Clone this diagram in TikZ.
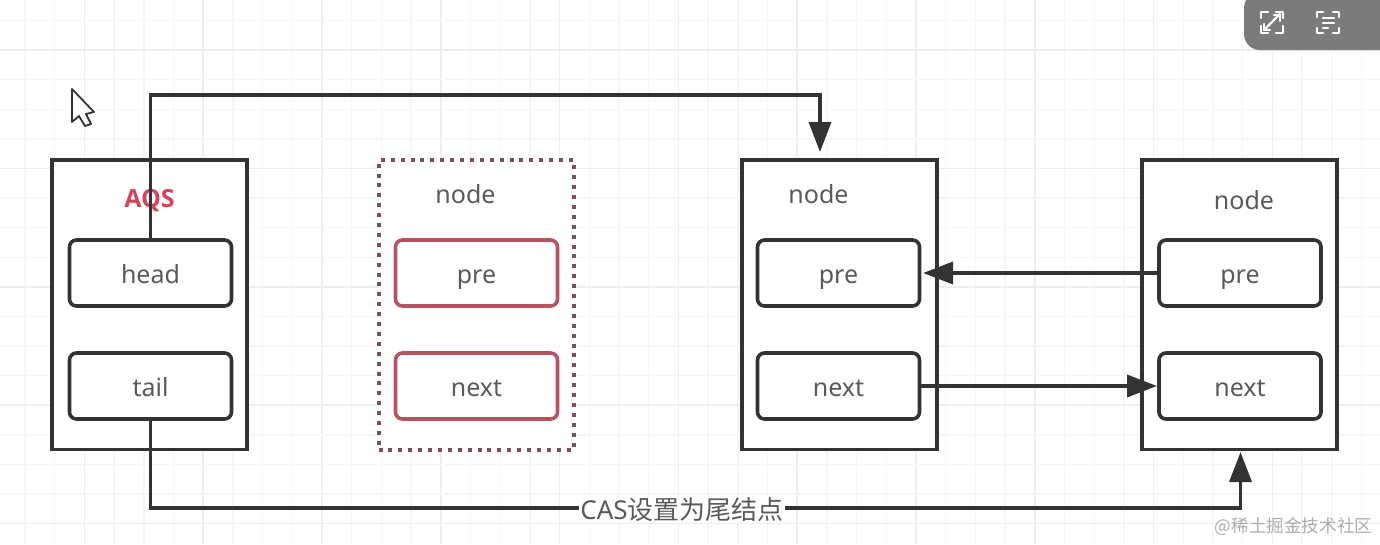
\documentclass[tikz,border=0pt]{standalone}
\usepackage{fontspec}
\setmainfont{Noto Sans}
\newfontfamily\cjkf{Noto Sans CJK SC}
\newfontfamily\aqsf{Open Sans}
\usetikzlibrary{arrows.meta,calc}
\definecolor{linec}{HTML}{333333}
\definecolor{txtc}{HTML}{5A5A5A}
\definecolor{redc}{HTML}{B9525F}
\definecolor{dotc}{HTML}{7A4F5C}
\definecolor{aqsc}{HTML}{D2455A}
\definecolor{gridA}{HTML}{F6F6F6}
\definecolor{gridB}{HTML}{EEEEEE}
\definecolor{barc}{HTML}{7B7B7B}
\tikzset{
  x=1pt,y=-1pt,
  outerbox/.style={draw=linec,line width=3.6pt,fill=white,minimum width=195.5pt,minimum height=289.5pt,inner sep=0pt,miter limit=10},
  dotbox/.style={draw=dotc,line width=4pt,fill=white,dash pattern=on 4pt off 5.9pt,minimum width=195pt,minimum height=289.5pt,inner sep=0pt},
  field/.style={draw=linec,line width=3.6pt,fill=white,rounded corners=7pt,minimum width=162pt,minimum height=66pt,inner sep=0pt,text=txtc,text height=24pt,text depth=3pt,font=\fontsize{25}{30}\selectfont},
  redfield/.style={field,draw=redc},
  caption/.style={inner sep=0pt,text=txtc,font=\fontsize{25}{30}\selectfont},
  conn/.style={draw=linec,line width=3.6pt,-{Triangle[length=30pt,width=22pt]}},
  icon/.style={draw=white,line width=2.6pt,line cap=round,line join=round},
}
\begin{document}
\begin{tikzpicture}
\useasboundingbox (0,0) rectangle (1380,544);
\fill[white] (0,0) rectangle (1380,544);
% grid
\foreach \k in {0,...,45}{
  \pgfmathsetmacro{\gx}{25+29.7*\k}
  \pgfmathtruncatemacro{\m}{mod(\k,4)}
  \ifnum\m=2 \draw[gridB,line width=1.6pt] (\gx,0) -- (\gx,544);
  \else \draw[gridA,line width=1.4pt] (\gx,0) -- (\gx,544); \fi
}
\foreach \k in {-1,...,16}{
  \pgfmathsetmacro{\gy}{50+29.6*\k}
  \pgfmathtruncatemacro{\m}{mod(\k+4,4)}
  \ifnum\m=0 \draw[gridB,line width=1.6pt] (0,\gy) -- (1380,\gy);
  \else \draw[gridA,line width=1.4pt] (0,\gy) -- (1380,\gy); \fi
}
% cursor
\draw[linec,fill=white,line width=1.8pt,line join=round]
  (72,89) -- (72,122) -- (79,116) -- (85,126) -- (91,124) -- (86,114) -- (94,112) -- cycle;
% outer boxes
\node[outerbox] (aqs) at (149.5,304.75) {};
\node[dotbox]   (n1)  at (476,304.75) {};
\node[outerbox] (n2)  at (839.5,304.75) {};
\node[outerbox] (n3)  at (1239.5,304.75) {};
% captions
\node[inner sep=0pt,text=aqsc,font=\fontsize{25}{30}\aqsf\bfseries] (aqst) at (149.5,201) {AQS};
\node[caption] (n1t) at (465.5,194) {node};
\node[caption] (n2t) at (818.5,194) {node};
\node[caption] (n3t) at (1244,200) {node};
% fields
\node[field] (head) at (150.5,273) {head};
\node[field] (tail) at (150.5,386) {tail};
\node[redfield] (pre1) at (476.5,273) {pre};
\node[redfield] (next1) at (476.5,386) {next};
\node[field] (pre2) at (838.5,273) {pre};
\node[field] (next2) at (838.5,386) {next};
\node[field] (pre3) at (1240,273) {pre};
\node[field] (next3) at (1240,386) {next};
% connectors
\coordinate (top1) at (head.north |- 0,95);
\coordinate (top2) at (820,95);
\coordinate (n2in) at (820,152);
\draw[conn] (head.north) -- (top1) -- (top2) -- (n2in);
\coordinate (pre2in) at (923,273);
\draw[conn] (pre3.west) -- (pre2in);
\coordinate (next3in) at (1157,386);
\draw[conn] (next2.east) -- (next3in);
\coordinate (bot1) at (tail.south |- 0,508);
\coordinate (bot2) at (1240.5,508);
\coordinate (n3in) at (1240.5,452);
\draw[conn] (tail.south) -- (bot1) -- (bot2) -- (n3in);
\node[fill=white,inner xsep=1pt,inner ysep=1pt,text=txtc,font=\fontsize{26}{30}\selectfont] (lab) at (682,510) {CAS{\cjkf 设置为尾结点}};
% watermark
\node[inner sep=0pt,text=black!32,font=\fontsize{17.6}{20}\cjkf] (wm) at (1293.5,527) {@稀土掘金技术社区};
% toolbar
\fill[barc,rounded corners=16pt] (1244,-8) rectangle (1400,50);
\draw[icon] (1261,18) -- (1261,12) -- (1268,12);
\draw[icon] (1276,12) -- (1283,12) -- (1283,18);
\draw[icon] (1261,26) -- (1261,33) -- (1268,33);
\draw[icon] (1276,33) -- (1283,33) -- (1283,26);
\draw[icon,line width=2.2pt] (1264,30) -- (1280,14);
\draw[icon,line width=2.2pt] (1274,15) -- (1280,15) -- (1280,21);
\draw[icon,line width=2.2pt] (1264,24) -- (1264,30) -- (1270,30);
\draw[icon] (1317,17) -- (1317,12) -- (1323,12);
\draw[icon] (1333,12) -- (1339,12) -- (1339,17);
\draw[icon] (1317,28) -- (1317,33) -- (1323,33);
\draw[icon] (1333,33) -- (1339,33) -- (1339,28);
\draw[icon] (1323,18) -- (1334,18);
\draw[icon] (1323,23) -- (1334,23);
\draw[icon] (1323,28) -- (1328,28);
\end{tikzpicture}
\end{document}
